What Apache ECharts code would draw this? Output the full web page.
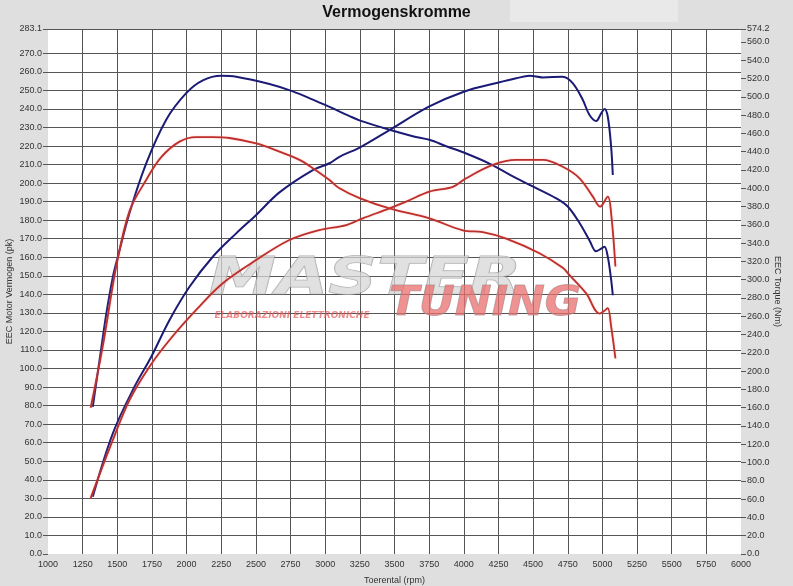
<!DOCTYPE html>
<html><head><meta charset="utf-8">
<script src="https://cdn.jsdelivr.net/npm/echarts@6/dist/echarts.min.js"></script>
<style>html,body{margin:0;padding:0;background:#dfdfdf}#c{width:793px;height:586px}</style>
</head><body><div id="c"></div>
<script>
const titleText = 'Vermogenskromme';
const xName = 'Toerental (rpm)';
const leftName = 'EEC Motor Vermogen (pk)';
const rightName = 'EEC Torque (Nm)';

const leftTicks = [0,10,20,30,40,50,60,70,80,90,100,110,120,130,140,150,160,170,180,190,200,210,220,230,240,250,260,270,283.1];
const rightTicks = [0,20,40,60,80,100,120,140,160,180,200,220,240,260,280,300,320,340,360,380,400,420,440,460,480,500,520,540,560,574.2];

// Blue torque (Nm, right axis)
const blueTqRpm = [1323,1372,1420,1468,1504,1588,1708,1853,1997,2117,2250,2358,2598,2766,2911,3031,3175,3252,3464,3632,3752,3873,4017,4185,4354,4498,4667,4750,4835,4907,4955,4991,5015,5039,5063,5075];
const blueTqVal = [161,212,262,303,325,373,427,475,504,518,523,522,514,506,497,489,479,474,464,457,453,446,438,427,413,402,389,380,362,343,331,334,336,325,300,283];

// Red torque (Nm, right axis)
const redTqRpm = [1308,1395,1492,1588,1708,1817,1949,2069,2189,2310,2502,2670,2815,2911,3031,3103,3252,3464,3752,3993,4137,4306,4546,4714,4763,4883,4979,5015,5039,5063,5094];
const redTqVal = [160,227,314,375,409,434,451,456,456,455,449,440,431,422,409,400,389,378,367,354,352,345,329,313,305,285,263,266,269,249,214];

// Blue power (pk, left axis)
const bluePwRpm = [1323,1468,1624,1745,1877,2021,2189,2358,2502,2670,2911,3031,3103,3252,3464,3748,4000,4245,4378,4474,4570,4714,4787,4859,4907,4955,4991,5015,5039,5063,5075];
const bluePwVal = [30.9,65.1,90.2,106.4,126.2,144.1,160.3,172.9,182.8,195.0,207.0,210.7,214.2,219.3,228.6,241.2,249.3,254.1,256.5,257.9,257.0,257.4,253.8,244.8,236.7,233.5,237.6,240.0,235.8,219.6,204.4];

// Red power (pk, left axis)
const redPwRpm = [1307,1468,1588,1732,1877,2069,2261,2502,2742,2959,3152,3271,3464,3584,3752,3921,4017,4209,4378,4570,4714,4835,4931,4984,5039,5063,5094];
const redPwVal = [30.0,61.5,83.0,101.0,115.4,131.6,146.0,158.5,169.3,174.7,177.4,181.0,186.4,190.0,195.4,198.0,202.6,209.8,212.5,212.5,208.8,202.6,192.7,187.3,192.7,183.7,155.0];

const zip = (a, b) => a.map((v, i) => [v, b[i]]);
const FONT = '"Liberation Sans", Arial, sans-serif';
const BLUE = '#1b1b76';
const RED = '#bd2f2a';

const chart = echarts.init(document.getElementById('c'));
const lineBase = {
  type: 'line', showSymbol: false, symbol: 'none', smooth: 0.35, animation: false, z: 3
};
chart.setOption({
  animation: false,
  backgroundColor: '#dfdfdf',
  textStyle: { fontFamily: FONT },
  title: {
    text: titleText, left: 'center', top: 0,
    textStyle: { fontSize: 16, fontWeight: 'bold', color: '#111', fontFamily: FONT }
  },
  graphic: [
    { type: 'rect', z: -1, shape: { x: 510, y: 0, width: 168, height: 22 }, style: { fill: '#e9e9e9' } },
    { type: 'text', z: 1, x: 365, y: 280, scaleX: 1.3,
      style: { x: 0, y: 0, text: 'MASTER', textAlign: 'center', textVerticalAlign: 'middle',
        font: 'italic 900 52px "DejaVu Sans"', fill: 'rgba(215,215,215,0.75)', stroke: 'rgba(140,140,140,0.7)', lineWidth: 1 } },
    { type: 'text', z: 1, x: 485, y: 305, scaleX: 1.1,
      style: { x: 0, y: 0, text: 'TUNING', textAlign: 'center', textVerticalAlign: 'middle',
        font: 'italic 900 40px "DejaVu Sans"', fill: 'rgba(232,110,110,0.75)', stroke: 'rgba(150,150,150,0.7)', lineWidth: 1 } },
    { type: 'text', z: 1, x: 292, y: 316,
      style: { x: 0, y: 0, text: 'ELABORAZIONI ELETTRONICHE', textAlign: 'center', textVerticalAlign: 'middle',
        font: 'italic bold 9px "DejaVu Sans"', fill: 'rgba(230,90,90,0.7)' } }
  ],
  grid: { left: 48, right: 52, top: 29, bottom: 32, show: true, backgroundColor: '#ffffff', borderWidth: 0,
    containLabel: false, outerBoundsMode: 'none' },
  xAxis: {
    type: 'value', min: 1000, max: 6000, interval: 250,
    name: xName, nameLocation: 'middle', nameGap: 22, nameMoveOverlap: false,
    nameTextStyle: { fontSize: 9, color: '#333', fontFamily: FONT },
    axisLine: { show: false }, axisTick: { show: false },
    axisLabel: { fontSize: 9, color: '#333', margin: 6, fontFamily: FONT, formatter: v => String(v) },
    splitLine: { show: true, showMinLine: false, showMaxLine: false, lineStyle: { color: '#555', width: 1 } }
  },
  yAxis: [
    {
      type: 'value', min: 0, max: 283.1, position: 'left',
      name: leftName, nameLocation: 'middle', nameGap: 34, nameRotate: 90, nameMoveOverlap: false,
      nameTextStyle: { fontSize: 9, color: '#333', fontFamily: FONT },
      axisLine: { show: false },
      axisTick: { show: true, length: 5, customValues: leftTicks, lineStyle: { color: '#555' } },
      axisLabel: { customValues: leftTicks, fontSize: 9, color: '#333', margin: 6, fontFamily: FONT,
        formatter: v => Number(v).toFixed(1) },
      splitLine: { show: true, showMinLine: false, showMaxLine: true, lineStyle: { color: '#555', width: 1 } }
    },
    {
      type: 'value', min: 0, max: 574.2, position: 'right',
      name: rightName, nameLocation: 'middle', nameGap: 32, nameRotate: -90, nameMoveOverlap: false,
      nameTextStyle: { fontSize: 9, color: '#333', fontFamily: FONT },
      axisLine: { show: false },
      axisTick: { show: true, length: 5, customValues: rightTicks, lineStyle: { color: '#555' } },
      axisLabel: { customValues: rightTicks, fontSize: 9, color: '#333', margin: 6, fontFamily: FONT,
        formatter: v => Number(v).toFixed(1) },
      splitLine: { show: false }
    }
  ],
  series: [
    Object.assign({}, lineBase, { name: 'Koppel blauw', yAxisIndex: 1, data: zip(blueTqRpm, blueTqVal),
      lineStyle: { color: BLUE, width: 2 }, itemStyle: { color: BLUE } }),
    Object.assign({}, lineBase, { name: 'Vermogen blauw', yAxisIndex: 0, data: zip(bluePwRpm, bluePwVal),
      lineStyle: { color: BLUE, width: 2 }, itemStyle: { color: BLUE } }),
    Object.assign({}, lineBase, { name: 'Koppel rood', yAxisIndex: 1, data: zip(redTqRpm, redTqVal),
      lineStyle: { color: RED, width: 1.8, shadowColor: 'rgba(255,140,140,0.5)', shadowBlur: 2 }, itemStyle: { color: RED } }),
    Object.assign({}, lineBase, { name: 'Vermogen rood', yAxisIndex: 0, data: zip(redPwRpm, redPwVal),
      lineStyle: { color: RED, width: 1.8, shadowColor: 'rgba(255,140,140,0.5)', shadowBlur: 2 }, itemStyle: { color: RED } })
  ]
});
</script>
</body></html>
